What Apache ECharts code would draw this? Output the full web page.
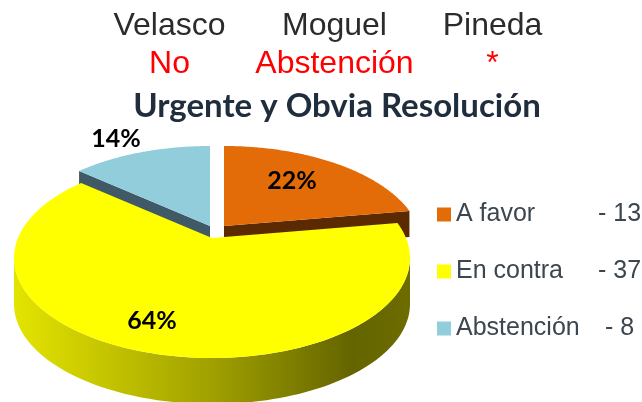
<!DOCTYPE html>
<html><head><meta charset="utf-8">
<style>html,body{margin:0;padding:0;background:#fff}#c{width:642px;height:402px}</style>
<script src="https://cdn.jsdelivr.net/npm/echarts@6/dist/echarts.min.js"></script>
</head><body><div id="c"></div>
<script>
// Data
const categories = ['A favor', 'En contra', 'Abstención'];
const votes = [13, 37, 8];
const deputies = ['Velasco', 'Moguel', 'Pineda'];
const decisions = ['No', 'Abstención', '*'];
const chartTitle = 'Urgente y Obvia Resolución';

// Styles and layout
const topColors = ['#e36c09', '#ffff00', '#92cddc'];
const wallColors = ['#5c2a00', null, '#3f5a66'];
const E = {cx: 212, cy: 258, rx: 198, ry: 100, k: 0.2, depth: 46, backWall: 26};
const offsets = [[12, -12], [0, 0], [-2, -12]];
const labelPos = [[292, 181], [152, 321], [116, 139]];
const headX = [169.5, 334.5, 492.5];

const total = votes.reduce((a, b) => a + b, 0);
const spans = votes.map(v => v / total * Math.PI * 2);
const starts = spans.map((_, i) => spans.slice(0, i).reduce((a, b) => a + b, 0));

function project(a, i) {
  const c = Math.cos(a), d = 1 + E.k * c;
  const cosT = (c + E.k) / d;
  const sinT = Math.sin(a) * Math.sqrt(1 - E.k * E.k) / d;
  return [E.cx + offsets[i][0] + E.rx * sinT, E.cy + offsets[i][1] - E.ry * cosT];
}
function apex(i) {
  return [E.cx + offsets[i][0], E.cy + offsets[i][1] - E.ry * E.k];
}
function topPoints(i) {
  const pts = [apex(i)], n = 120;
  for (let s = 0; s <= n; s++) pts.push(project(starts[i] + spans[i] * s / n, i));
  return pts;
}
// Front wall of the slice: the part of the ellipse rim from the right extreme to the left extreme.
function frontWall(i) {
  const upper = [], cx = E.cx + offsets[i][0], cy = E.cy + offsets[i][1];
  for (let t = 90; t <= 270; t += 2) {
    const r = t * Math.PI / 180;
    upper.push([cx + E.rx * Math.sin(r), cy - E.ry * Math.cos(r)]);
  }
  const lower = upper.slice().reverse().map(p => [p[0], p[1] + E.depth]);
  return upper.concat(lower);
}
function cutWall(i, a) {
  const p = project(a, i), o = apex(i);
  return [o, p, [p[0], p[1] + E.backWall], [o[0], o[1] + E.backWall]];
}
function percentLabel(i) {
  return {
    type: 'text', z2: 20,
    style: {
      x: labelPos[i][0], y: labelPos[i][1], text: Math.round(votes[i] / total * 100) + '%',
      align: 'center', verticalAlign: 'middle', fill: '#000',
      font: 'bold 25px Lato, "Open Sans", sans-serif'
    }
  };
}
function sliceTop(i) {
  return {type: 'polygon', z2: 10, shape: {points: topPoints(i)}, style: {fill: topColors[i]}};
}
const base = {type: 'custom', coordinateSystem: 'none', silent: true, animation: false};

const series = [
  Object.assign({}, base, {
    name: 'Cortes', data: [[votes[0]]],
    renderItem: () => ({type: 'group', children: [
      {type: 'polygon', shape: {points: cutWall(0, starts[0] + spans[0])}, style: {fill: wallColors[0]}},
      {type: 'polygon', shape: {points: cutWall(2, starts[2])}, style: {fill: wallColors[2]}}
    ]})
  }),
  Object.assign({}, base, {
    name: categories[1], data: [[votes[1]]], itemStyle: {color: topColors[1]},
    renderItem: () => ({type: 'group', children: [
      {type: 'polygon', shape: {points: frontWall(1)}, style: {
        fill: new echarts.graphic.LinearGradient(0, 0, 1, 0, [
          {offset: 0, color: '#e4e400'}, {offset: 0.5, color: '#a0a000'},
          {offset: 0.85, color: '#656500'}, {offset: 1, color: '#6c6c00'}])
      }},
      sliceTop(1), percentLabel(1)
    ]})
  }),
  Object.assign({}, base, {
    name: categories[0], data: [[votes[0]]], itemStyle: {color: topColors[0]},
    renderItem: () => ({type: 'group', children: [sliceTop(0), percentLabel(0)]})
  }),
  Object.assign({}, base, {
    name: categories[2], data: [[votes[2]]], itemStyle: {color: topColors[2]},
    renderItem: () => ({type: 'group', children: [sliceTop(2), percentLabel(2)]})
  })
];

const headFont = '32px "Liberation Sans", Arial, sans-serif';
const graphic = [];
deputies.forEach((t, i) => graphic.push({type: 'text', x: headX[i], y: 26, silent: true,
  style: {text: t, align: 'center', verticalAlign: 'middle', font: headFont, fill: '#2b2b2b'}}));
decisions.forEach((t, i) => graphic.push({type: 'text', x: headX[i], y: 64, silent: true,
  style: {text: t, align: 'center', verticalAlign: 'middle', font: headFont, fill: '#ff0000'}}));

const chart = echarts.init(document.getElementById('c'), null, {renderer: 'canvas'});
chart.setOption({
  animation: false,
  backgroundColor: '#fff',
  title: {
    text: chartTitle, left: 332, top: 85, textAlign: 'center',
    textStyle: {fontFamily: 'Lato', fontWeight: 'bold', fontSize: 33, color: '#1f2d3d'}
  },
  legend: {
    orient: 'vertical', left: 437, top: 202, padding: 0, itemWidth: 14, itemHeight: 14, itemGap: 32,
    icon: 'rect', selectedMode: false,
    data: categories.map(name => ({name})),
    formatter: name => {
      const i = categories.indexOf(name);
      return '{' + (i === 2 ? 'w' : 'n') + '|' + name + '}{v|- ' + votes[i] + '}';
    },
    textStyle: {
      color: '#3c4650', fontFamily: 'Liberation Sans', fontSize: 25,
      rich: {
        n: {width: 142, fontSize: 25, fontFamily: 'Liberation Sans', color: '#3c4650'},
        w: {width: 149, fontSize: 25, fontFamily: 'Liberation Sans', color: '#3c4650'},
        v: {fontSize: 25, fontFamily: 'Liberation Sans', color: '#3c4650'}
      }
    }
  },
  graphic,
  series
});
</script></body></html>
